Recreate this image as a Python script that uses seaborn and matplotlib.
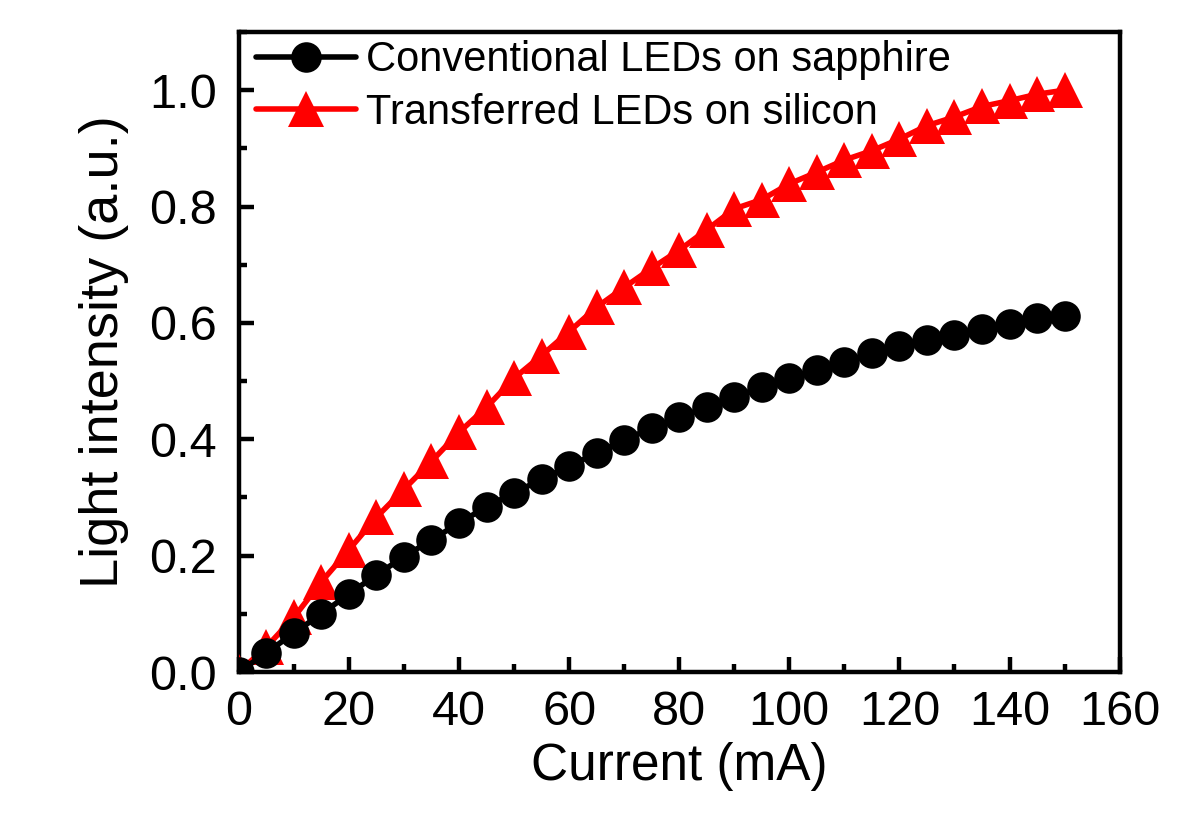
import pandas as pd
import numpy as np
import matplotlib
matplotlib.use("Agg")
import matplotlib.pyplot as plt
import seaborn as sns
from matplotlib.ticker import MultipleLocator, FormatStrFormatter

# Datos
corriente = [0, 5, 10, 15, 20, 25, 30, 35, 40, 45, 50, 55, 60, 65, 70, 75,
             80, 85, 90, 95, 100, 105, 110, 115, 120, 125, 130, 135, 140, 145, 150]
zafiro = [0.0, 0.033, 0.067, 0.100, 0.134, 0.167, 0.198, 0.227, 0.256, 0.284,
          0.308, 0.331, 0.354, 0.376, 0.399, 0.419, 0.438, 0.455, 0.472, 0.490,
          0.505, 0.519, 0.533, 0.548, 0.560, 0.570, 0.579, 0.589, 0.598, 0.608, 0.612]
silicio = [0.0, 0.043, 0.094, 0.155, 0.210, 0.266, 0.314, 0.362, 0.412, 0.455,
           0.505, 0.544, 0.585, 0.627, 0.661, 0.694, 0.725, 0.760, 0.796, 0.812,
           0.839, 0.859, 0.880, 0.896, 0.916, 0.939, 0.954, 0.972, 0.982, 0.993, 1.0]
etiquetas = ["Conventional LEDs on sapphire", "Transferred LEDs on silicon"]

sns.set_style("ticks")
plt.rcParams['font.family'] = ['Liberation Sans', 'DejaVu Sans']
plt.rcParams['text.color'] = 'black'
plt.rcParams['axes.labelcolor'] = 'black'
plt.rcParams['axes.edgecolor'] = 'black'
plt.rcParams['xtick.color'] = 'black'
plt.rcParams['ytick.color'] = 'black'

df = pd.DataFrame({"Current": corriente, "sapphire": zafiro, "silicon": silicio})

fig = plt.figure(figsize=(12, 8.31), dpi=100)
ax = fig.add_axes([0.199, 0.1913, 0.734, 0.7702])

# los circulos negros quedan por encima de los triangulos
sns.lineplot(data=df, x="Current", y="sapphire", ax=ax, color="black",
             marker="o", markersize=22, markeredgewidth=0, linewidth=4,
             label=etiquetas[0], zorder=4)
sns.lineplot(data=df, x="Current", y="silicon", ax=ax, color="#ff0000",
             marker="^", markersize=26, markeredgewidth=0, linewidth=4,
             label=etiquetas[1], zorder=3)

ax.set_xlim(0, 160)
ax.set_ylim(0, 1.1)
ax.xaxis.set_major_locator(MultipleLocator(20))
ax.xaxis.set_minor_locator(MultipleLocator(10))
ax.yaxis.set_major_locator(MultipleLocator(0.2))
ax.yaxis.set_minor_locator(MultipleLocator(0.1))
ax.yaxis.set_major_formatter(FormatStrFormatter('%.1f'))

ax.tick_params(which='major', direction='in', length=11, width=3.2,
               labelsize=35, top=False, right=False)
ax.tick_params(which='minor', direction='in', length=6, width=3.2,
               top=False, right=False)
ax.tick_params(axis='x', which='major', pad=13)
ax.tick_params(axis='y', which='major', pad=16)
for s in ax.spines.values():
    s.set_visible(True)
    s.set_linewidth(3.2)
    s.set_color('black')

ax.set_xlabel("Current (mA)", fontsize=37, labelpad=5)
ax.set_ylabel("Light intensity (a.u.)", fontsize=39, labelpad=14)

ax.legend(loc='upper left', bbox_to_anchor=(0.01, 1.0), frameon=False,
          fontsize=30, handlelength=2.4, handletextpad=0.25, labelspacing=0.3,
          borderaxespad=0.1, borderpad=0.1)

plt.savefig("out.png", dpi=100)
